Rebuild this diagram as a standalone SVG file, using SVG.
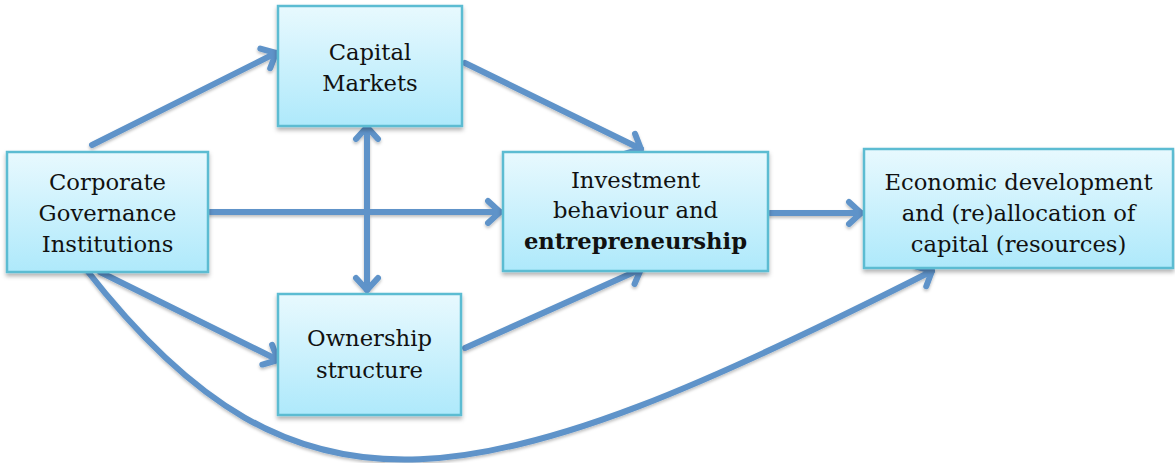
<svg xmlns="http://www.w3.org/2000/svg" width="1175" height="463" viewBox="0 0 1175 463">
  <defs>
    <linearGradient id="boxFill" x1="0" y1="0" x2="0" y2="1">
      <stop offset="0" stop-color="#e8f9fe"/>
      <stop offset="1" stop-color="#aee9fb"/>
    </linearGradient>
    <filter id="boxShadow" x="-10%" y="-10%" width="120%" height="130%">
      <feDropShadow dx="0" dy="3" stdDeviation="2" flood-color="#000" flood-opacity="0.3"/>
    </filter>
    <filter id="lineShadow" x="-10%" y="-10%" width="120%" height="130%">
      <feDropShadow dx="0" dy="2" stdDeviation="1.5" flood-color="#000" flood-opacity="0.25"/>
    </filter>
    <marker id="head" markerUnits="userSpaceOnUse" markerWidth="30" markerHeight="30" viewBox="-16 -15 20 30" refX="0" refY="0" orient="auto-start-reverse">
      <path d="M-12,-11 L0,0 L-12,11" fill="none" stroke="#5e93c9" stroke-width="6" stroke-linecap="round" stroke-linejoin="round"/>
    </marker>
  </defs>
  <style>
    .box { fill: url(#boxFill); stroke: #5bbcd2; stroke-width: 2.5; filter: url(#boxShadow); }
    .label { font-family: "DejaVu Serif", "Liberation Serif", serif; font-size: 22.7px; fill: #111; text-anchor: middle; }
    .bold { font-weight: bold; }
    .conn { fill: none; stroke: #5e93c9; stroke-width: 6; stroke-linecap: round; marker-end: url(#head); }
    .both { marker-start: url(#head); }
  </style>

  <!-- connectors -->
  <g id="connectors" filter="url(#lineShadow)">
    <path class="conn" d="M92,145 L276,53"/>
    <path class="conn" d="M465,63 L641,149"/>
    <path class="conn" d="M210,212 L500,212"/>
    <path class="conn both" d="M367,127 L367,290"/>
    <path class="conn" d="M770,213 L861,213"/>
    <path class="conn" d="M100,272 L278,360"/>
    <path class="conn" d="M465,348 L641,269"/>
    <path class="conn" d="M85,268 C300,545 480,500 932,271"/>
  </g>

  <g id="corporate-governance">
    <rect class="box" x="7" y="152" width="201" height="120"/>
    <text class="label" x="107.5" y="190">Corporate</text>
    <text class="label" x="107.5" y="221">Governance</text>
    <text class="label" x="107.5" y="252">Institutions</text>
  </g>

  <g id="capital-markets">
    <rect class="box" x="278" y="6" width="184" height="120"/>
    <text class="label" x="370" y="60">Capital</text>
    <text class="label" x="370" y="91">Markets</text>
  </g>

  <g id="investment">
    <rect class="box" x="503" y="152" width="265" height="119"/>
    <text class="label" x="635.5" y="188">Investment</text>
    <text class="label" x="635.5" y="218">behaviour and</text>
    <text class="label bold" x="635.5" y="249">entrepreneurship</text>
  </g>

  <g id="economic-development">
    <rect class="box" x="864" y="149" width="309" height="119"/>
    <text class="label" x="1018.5" y="190">Economic development</text>
    <text class="label" x="1018.5" y="221">and (re)allocation of</text>
    <text class="label" x="1018.5" y="252">capital (resources)</text>
  </g>

  <g id="ownership-structure">
    <rect class="box" x="278" y="294" width="183" height="121"/>
    <text class="label" x="369.5" y="346">Ownership</text>
    <text class="label" x="369.5" y="378">structure</text>
  </g>
</svg>
